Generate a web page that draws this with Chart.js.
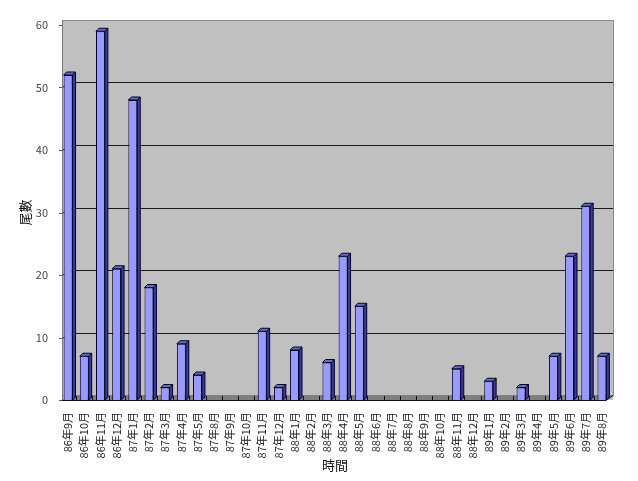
<!DOCTYPE html>
<html>
<head>
<meta charset="utf-8">
<script src="https://cdn.jsdelivr.net/npm/chart.js@4"></script>
<style>
html,body{margin:0;padding:0;background:#fff;}
#wrap{width:638px;height:481px;}
</style>
</head>
<body>
<div id="wrap"><canvas id="c" width="638" height="481"></canvas></div>
<script>
const categories = ["86年9月","86年10月","86年11月","86年12月","87年1月","87年2月","87年3月","87年4月","87年5月","87年8月","87年9月","87年10月","87年11月","87年12月","88年1月","88年2月","88年3月","88年4月","88年5月","88年6月","88年7月","88年8月","88年9月","88年10月","88年11月","88年12月","89年1月","89年2月","89年3月","89年4月","89年5月","89年6月","89年7月","89年8月"];
const counts = [52,7,59,21,48,18,2,9,4,0,0,0,11,2,8,0,6,23,15,0,0,0,0,0,5,0,3,0,2,0,7,23,31,7];
const yTicks = [0,10,20,30,40,50,60];

const FONT = '"Noto Sans CJK TC", "Noto Sans", sans-serif';
const DX = 11, DY = 5;   // depth of the back wall

const wallPlugin = {
  id: 'wall',
  beforeDatasetsDraw(chart) {
    const ctx = chart.ctx, ca = chart.chartArea, y = chart.scales.y;
    const L = ca.left + 2, R = ca.right + 3;
    const top = y.getPixelForValue(60) - DY;
    const bot = ca.bottom;
    ctx.save();
    // back wall
    ctx.fillStyle = '#c0c0c0';
    ctx.fillRect(L, top, R - L, bot - top);
    ctx.strokeStyle = '#8a8a8a';
    ctx.lineWidth = 1;
    ctx.strokeRect(L + 0.5, top + 0.5, R - L, bot - top - DY);
    // gridlines
    ctx.strokeStyle = '#1a1a1a';
    yTicks.forEach(v => {
      if (v === 0 || v === 60) return;
      const py = Math.round(y.getPixelForValue(v)) + 0.5;
      ctx.beginPath();
      ctx.moveTo(L, py);
      ctx.lineTo(L + DX, py - DY);
      ctx.lineTo(R, py - DY);
      ctx.stroke();
    });
    // floor
    ctx.fillStyle = '#7f7f7f';
    ctx.beginPath();
    ctx.moveTo(L, bot);
    ctx.lineTo(R - DX + 4, bot);
    ctx.lineTo(R, bot - DY);
    ctx.lineTo(L + DX, bot - DY);
    ctx.closePath();
    ctx.fill();
    // left axis line
    ctx.strokeStyle = '#7a7a7a';
    ctx.beginPath();
    ctx.moveTo(L + 0.5, top);
    ctx.lineTo(L + 0.5, bot);
    ctx.stroke();
    // y tick marks
    ctx.strokeStyle = '#555';
    yTicks.forEach(v => {
      const py = Math.round(y.getPixelForValue(v)) + 0.5;
      ctx.beginPath();
      ctx.moveTo(L - 3, py);
      ctx.lineTo(L, py);
      ctx.stroke();
    });
    // x axis line and ticks
    ctx.strokeStyle = '#111';
    ctx.beginPath();
    ctx.moveTo(L, bot + 0.5);
    ctx.lineTo(R - DX + 4, bot + 0.5);
    ctx.lineTo(R, bot - DY + 0.5);
    ctx.stroke();
    const step = (ca.right - ca.left) / categories.length;
    for (let i = 1; i < categories.length; i++) {
      const px = Math.round(ca.left + step * i) + 0.5;
      ctx.beginPath();
      ctx.moveTo(px, bot);
      ctx.lineTo(px, bot - 4);
      ctx.stroke();
    }
    ctx.restore();
  },
  afterDatasetsDraw(chart) {
    const ctx = chart.ctx;
    const meta = chart.getDatasetMeta(0);
    const d = 3;
    ctx.save();
    ctx.lineWidth = 1;
    ctx.strokeStyle = '#000033';
    meta.data.forEach((bar, i) => {
      if (!counts[i]) return;
      const p = bar.getProps(['x', 'y', 'base', 'width'], true);
      const l = p.x - p.width / 2, r = p.x + p.width / 2;
      // side face
      ctx.fillStyle = '#3d3d8f';
      ctx.beginPath();
      ctx.moveTo(r, p.y);
      ctx.lineTo(r + d, p.y - d);
      ctx.lineTo(r + d, p.base - d);
      ctx.lineTo(r, p.base);
      ctx.closePath();
      ctx.fill();
      ctx.stroke();
      // top face
      ctx.fillStyle = '#6b6bc4';
      ctx.beginPath();
      ctx.moveTo(l, p.y);
      ctx.lineTo(l + d, p.y - d);
      ctx.lineTo(r + d, p.y - d);
      ctx.lineTo(r, p.y);
      ctx.closePath();
      ctx.fill();
      ctx.stroke();
    });
    ctx.restore();
  }
};

new Chart(document.getElementById('c'), {
  type: 'bar',
  data: {
    labels: categories,
    datasets: [{
      data: counts,
      backgroundColor: '#9999ff',
      borderColor: '#000033',
      borderWidth: 1,
      categoryPercentage: 1.0,
      barPercentage: 0.55
    }]
  },
  options: {
    responsive: false,
    animation: false,
    layout: { padding: { top: 25, right: 28, bottom: 8, left: 16 } },
    plugins: { legend: { display: false }, tooltip: { enabled: false } },
    scales: {
      x: {
        grid: { display: false },
        border: { display: false },
        ticks: {
          autoSkip: false,
          minRotation: 90,
          maxRotation: 90,
          padding: 4,
          color: '#222',
          font: { family: FONT, size: 11 }
        },
        title: {
          display: true,
          text: '時間',
          color: '#111',
          padding: { top: 0, bottom: 0 },
          font: { family: FONT, size: 13 }
        },
        afterFit(s) { s.height = 73; }
      },
      y: {
        min: 0,
        max: 60,
        grid: { display: false },
        border: { display: false },
        afterBuildTicks(s) { s.ticks = yTicks.map(v => ({ value: v })); },
        ticks: {
          padding: 4,
          color: '#444',
          font: { family: FONT, size: 11 }
        },
        title: {
          display: true,
          text: '尾數',
          color: '#111',
          padding: { top: 1, bottom: 0 },
          font: { family: FONT, size: 13 }
        },
        afterFit(s) { s.width = 44; }
      }
    }
  },
  plugins: [wallPlugin]
});
</script>
</body>
</html>
